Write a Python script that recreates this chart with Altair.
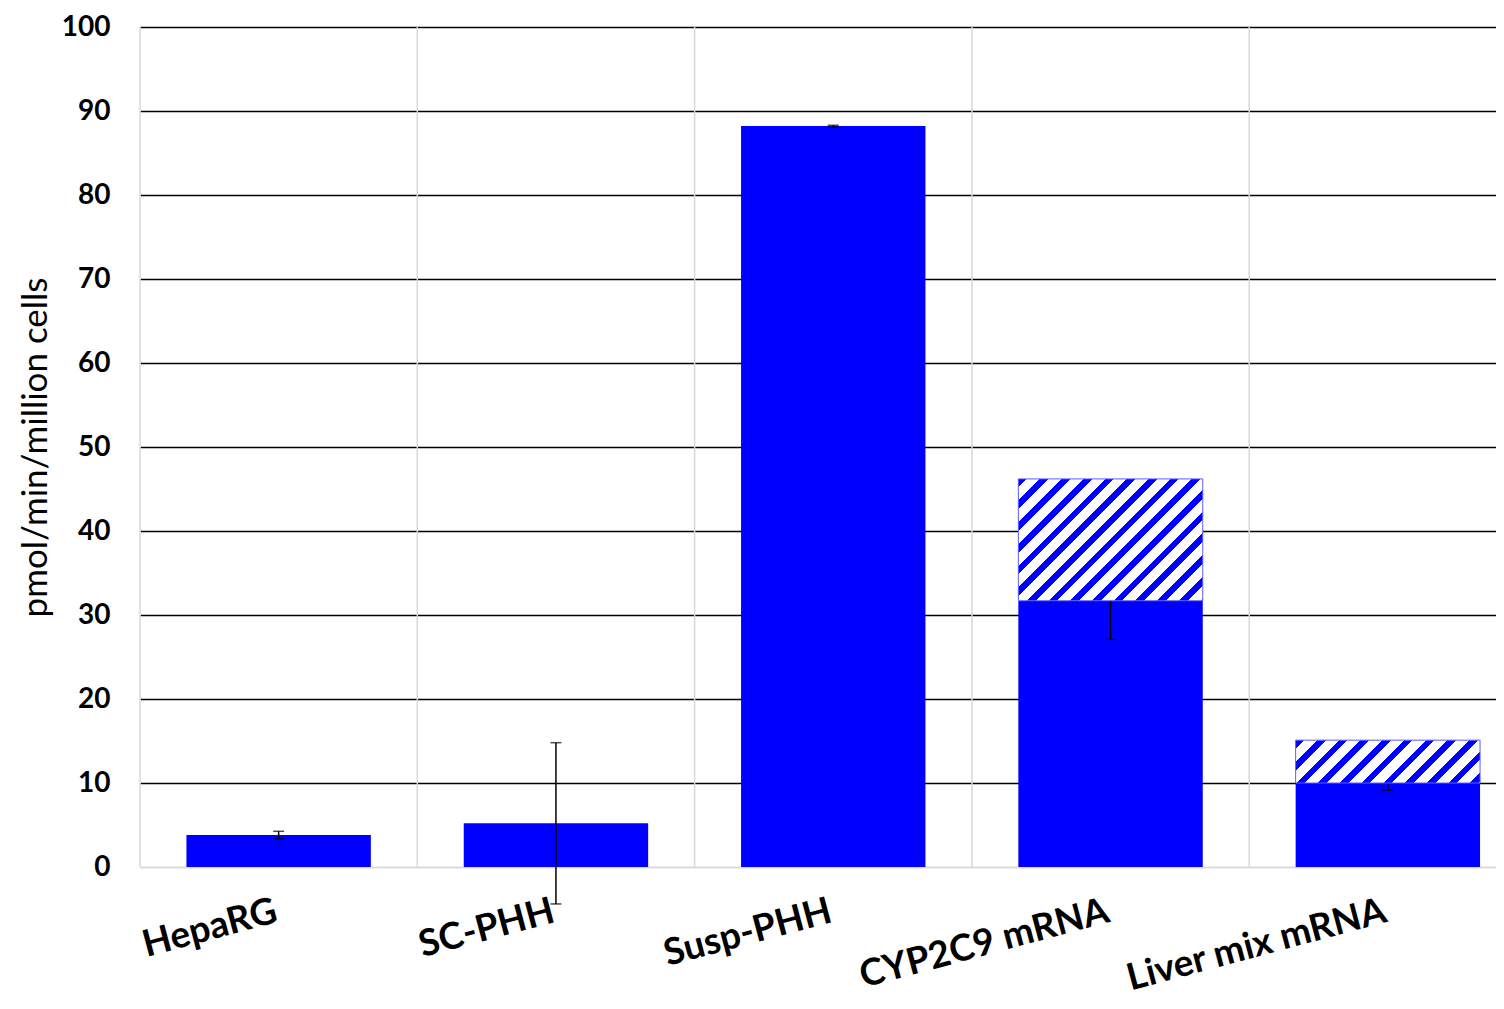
import altair as alt
import pandas as pd

# ---- data ----
categories = ["HepaRG", "SC-PHH", "Susp-PHH", "CYP2C9 mRNA", "Liver mix mRNA"]
solid_values = [3.8, 5.2, 88.2, 31.7, 10.0]
solid_errors = [0.45, 9.6, 0.1, 4.6, 0.85]
hatched_tops = [None, None, None, 46.2, 15.1]
y_ticks = [0, 10, 20, 30, 40, 50, 60, 70, 80, 90, 100]
y_title = "pmol/min/million cells"

# ---- styling ----
BLUE = "#0000ff"
GRID_GREY = "#d9d9d9"
PLOT_W = 1356
PLOT_H = 840
X_RANGE = 1386.5          # the last category is cut by the picture edge
PAD_INNER = 0.335
Y_MAX = 100
FONT = "Lato"

df = pd.DataFrame({
    "cat": categories,
    "value": solid_values,
    "err": solid_errors,
    "top": hatched_tops,
})
df["lo"] = df["value"] - df["err"]
df["hi"] = df["value"] + df["err"]

x_scale = alt.Scale(domain=categories, range=[0, X_RANGE],
                    paddingInner=PAD_INNER, paddingOuter=PAD_INNER / 2)
y_scale = alt.Scale(domain=[0, Y_MAX], nice=False)

x_axis = alt.Axis(
    title=None, labelAngle=345, labelAlign="right", labelBaseline="top",
    labelPadding=26, labelOffset=-7, ticks=False, grid=False,
    domainColor=GRID_GREY, domainWidth=1.5, labelFont=FONT,
    labelFontWeight="bold", labelFontSize=37, labelColor="black",
    labelLimit=600, labelOverlap=False,
)
y_axis = alt.Axis(
    values=y_ticks, title=y_title, labelFont=FONT, labelFontWeight="bold",
    labelFontSize=28, labelColor="black", labelPadding=30, ticks=False,
    domain=False, grid=True,
    gridColor=alt.condition("datum.value === 0", alt.value(GRID_GREY), alt.value("black")),
    gridWidth=1.5, titleFont=FONT, titleFontWeight="normal", titleFontSize=35,
    titleColor="black", titleAngle=270, titleAlign="center",
    titleBaseline="middle", titleX=-105, titleY=420,
)

X = alt.X("cat:N", scale=x_scale, axis=x_axis, sort=categories)


def Y(field):
    return alt.Y(f"{field}:Q", scale=y_scale, axis=y_axis)


base = alt.Chart(df)

solid = base.mark_bar(color=BLUE).encode(x=X, y=Y("value"))
err_rule = base.mark_rule(color="black", strokeWidth=1.5).encode(
    x=X, y=Y("lo"), y2="hi")
cap_lo = base.mark_tick(color="black", thickness=1.5, size=11).encode(x=X, y=Y("lo"))
cap_hi = base.mark_tick(color="black", thickness=1.5, size=11).encode(x=X, y=Y("hi"))

band_w = X_RANGE / len(categories) * (1 - PAD_INNER)


def hatch_gradient(w, h, period=21.7, blue_frac=0.4):
    r = h / w
    k = (1 + r) / (1 + r * r)
    n = (w + h) / period
    f = 1.0 / n
    stops = []
    i = 0
    while i * f < 1:
        a = i * f
        b = min(a + blue_frac * f, 1.0)
        c = min((i + 1) * f, 1.0)
        stops += [
            alt.GradientStop(color=BLUE, offset=a),
            alt.GradientStop(color=BLUE, offset=b),
            alt.GradientStop(color="white", offset=b),
            alt.GradientStop(color="white", offset=c),
        ]
        i += 1
    return alt.LinearGradient(gradient="linear", stops=stops,
                              x1=0, y1=0, x2=k, y2=k * r)


hatched_layers = []
for cat, val, top in zip(categories, solid_values, hatched_tops):
    if top is None:
        continue
    h_px = (top - val) * PLOT_H / Y_MAX
    sub = df[df["cat"] == cat]
    hatched_layers.append(
        alt.Chart(sub).mark_bar(fill=hatch_gradient(band_w, h_px),
                                stroke="#5c5cff", strokeWidth=1)
        .encode(x=X, y=Y("value"), y2="top")
    )

cat_df = pd.DataFrame({"cat": categories})
sep_rules = alt.Chart(cat_df).mark_rule(color=GRID_GREY, strokeWidth=1.5).encode(
    x=alt.X("cat:N", sort=categories, bandPosition=0, axis=None,
            scale=alt.Scale(domain=categories, range=[0, X_RANGE],
                            paddingInner=0, paddingOuter=0)),
    y=alt.datum(0, scale=y_scale, axis=y_axis),
    y2=alt.datum(Y_MAX),
)

main = alt.layer(solid, err_rule, cap_lo, cap_hi, *hatched_layers)

chart = (
    alt.layer(sep_rules, main)
    .resolve_scale(x="independent")
    .properties(
        width=PLOT_W, height=PLOT_H,
        autosize=alt.AutoSizeParams(type="none"),
        padding={"left": 132, "top": 19, "right": 0, "bottom": 131},
        background="white",
    )
    .configure_view(strokeWidth=0)
)

chart.save("out.html", embed_options={"renderer": "svg", "actions": False})
